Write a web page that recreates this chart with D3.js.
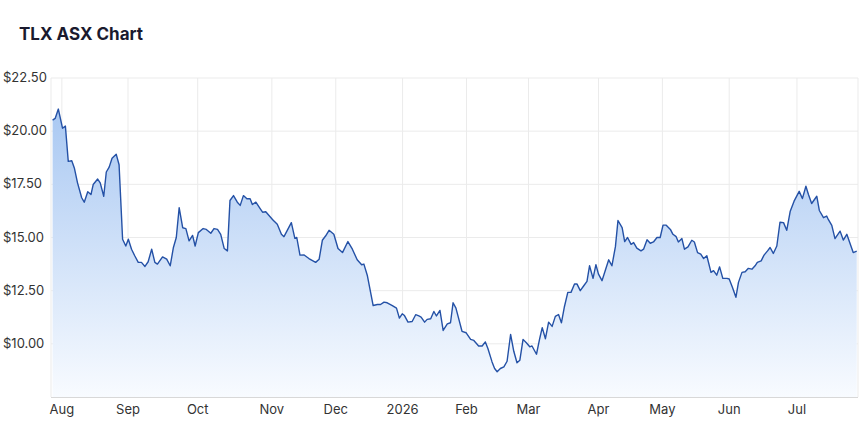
<!DOCTYPE html>
<html>
<head>
<meta charset="utf-8">
<script src="https://cdn.jsdelivr.net/npm/d3@7"></script>
<style>
  body { margin: 0; background: #fff; font-family: Inter, "Noto Sans", sans-serif; }
</style>
</head>
<body>
<svg id="chart" width="860" height="425"></svg>
<script>
// trading session number (0 = late Jul 2025) and closing price
var sessions = [0.5,1.3,2.3,3.6,4.5,5.4,6.5,7.3,8.3,9.6,10.4,11.5,12.5,13.2,14.6,15.4,16.5,17.3,18.2,19.1,20.4,21.3,22.4,23.4,24.2,25.2,26.2,27.3,28.3,29.4,30.4,31.5,32.5,33.3,34.9,36.2,37.3,38.3,39.2,40.1,41.2,42.2,43.2,44.3,45.1,46.1,47.6,48.6,50,51,52.1,53.1,54.2,55.2,56,57.1,58.3,59.2,60.2,61.3,62.3,63,64.1,65.6,66.2,67.2,69.3,70.8,72.1,72.9,75.2,76.3,76.9,77.9,79.2,80.7,82.8,83.9,84.9,85.9,87,88.5,89.8,91.2,92.9,94.3,95.8,97.2,97.9,99,100,100.8,102.1,103.1,104.2,105.2,106.8,108.1,109,109.9,110.6,111.7,113,114.1,115.1,115.8,116.9,117.7,118.8,119.8,120.6,121.7,122.7,124,125,125.8,126.7,128.6,129.9,131.3,132.3,133.8,134.9,135.9,136.7,138,138.8,139.6,140.6,141.7,142.7,143.8,144.8,145.8,146.7,147.7,148.8,149.8,150.5,151.9,152.9,153.7,154.7,155.7,156.8,157.8,158.8,159.7,160.6,161.7,162.7,163.8,164.6,165.6,166.7,167.7,168.5,169.6,170.5,171.3,172.4,173.4,174.5,175.5,176.6,177.4,178.7,179.5,180.4,181.5,182.3,183.3,184.6,185.4,186.5,187.5,188.5,189.6,190.6,191.5,192.5,193.8,194.6,195.6,196.3,197.4,198.2,199.3,200.5,201.3,202.3,203.3,204.2,205.2,206.5,207.3,208.3,209.2,210.2,211.5,212.2,213.2,214.3,215.1,216.2,217.2,218.2,219.3,220.3,221,222.2,223.1,224.2,225,226,227.1,228.1,229.2,230.2,231.3,232.5,234.1,235.1,236.2,237,238,239.6,240.4,241.7,242.7,243.2,244.3,245.3,246.9,247.9,249,251,252.1];
var prices = [20.52,20.6,21.04,20.14,20.24,18.58,18.61,18.27,17.57,16.87,16.66,17.15,17.02,17.49,17.75,17.57,16.94,18.08,18.31,18.73,18.92,18.42,14.92,14.6,14.92,14.45,14.14,13.83,13.83,13.64,13.86,14.45,13.83,13.75,14.09,13.98,13.67,14.53,15.0,16.4,15.46,15.42,14.84,15.1,14.6,15.23,15.42,15.38,15.2,15.42,15.38,15.15,14.48,14.37,16.74,16.97,16.66,16.51,16.97,16.82,16.82,16.55,16.66,16.32,16.19,16.21,15.85,15.62,15.15,15.04,15.7,14.96,15.0,14.17,14.18,14.01,13.83,13.98,14.87,15.07,15.34,15.15,14.48,14.29,14.81,14.45,13.95,13.72,13.75,13.2,12.42,11.8,11.85,11.85,11.96,11.93,11.8,11.68,11.21,11.41,11.33,11.02,11.05,11.37,11.31,11.26,11.02,11.15,11.18,11.52,11.31,11.57,10.63,10.94,10.99,11.93,11.68,10.59,10.52,10.21,10.16,9.9,9.9,10.09,9.78,9.15,8.84,8.69,8.84,8.92,9.18,10.44,9.65,9.11,9.23,10.21,10.04,9.86,9.9,9.51,10.24,10.76,10.24,11.02,10.82,11.29,11.38,10.99,11.72,12.42,12.42,12.81,12.81,12.5,12.73,12.94,13.67,13.08,13.72,13.28,12.97,13.44,13.95,13.67,14.57,15.8,15.46,14.81,15.0,14.68,14.76,14.5,14.37,14.45,14.89,14.73,14.79,15.0,15.0,15.58,15.58,15.38,15.15,15.04,14.79,14.95,14.45,14.56,14.87,14.79,14.29,14.22,14.01,14.14,13.36,13.44,13.23,13.62,13.08,13.08,13.05,12.66,12.19,12.89,13.36,13.39,13.55,13.51,13.67,13.83,13.9,14.17,14.37,14.53,14.25,14.6,15.72,15.7,15.34,16.24,16.71,17.17,16.83,17.41,17.02,16.6,16.94,16.27,15.93,16.01,15.85,15.57,14.95,15.3,14.88,15.15,14.29,14.36];

var monthSessions = [3.4,24.1,45.9,69.1,89.1,110,130,149.4,171.3,191.3,212.2,233.4];
var monthLabels = ["Aug","Sep","Oct","Nov","Dec","2026","Feb","Mar","Apr","May","Jun","Jul"];
var priceTicks = [10, 12.5, 15, 17.5, 20, 22.5];

var svg = d3.select("#chart");
var plotLeft = 51, plotRight = 858, plotTop = 78, plotBottom = 397;

var x = d3.scaleLinear().domain([0, 252.5]).range([plotLeft, plotRight]);
var y = d3.scaleLinear().domain([7.5, 22.5]).range([plotBottom, plotTop]);

svg.append("text")
	.attr("x", 19).attr("y", 40)
	.attr("font-size", 17).attr("font-weight", 700)
	.attr("fill", "#1a1a2e")
	.text("TLX ASX Chart");

// grid
svg.append("g").selectAll("line").data(priceTicks).join("line")
	.attr("x1", plotLeft).attr("x2", plotRight)
	.attr("y1", d => y(d)).attr("y2", d => y(d))
	.attr("stroke", "#ebebeb");
svg.append("g").selectAll("line").data(monthSessions).join("line")
	.attr("x1", d => x(d)).attr("x2", d => x(d))
	.attr("y1", plotTop).attr("y2", plotBottom)
	.attr("stroke", "#ebebeb");
svg.append("line").attr("x1", plotLeft).attr("x2", plotLeft).attr("y1", plotTop).attr("y2", plotBottom).attr("stroke", "#ebebeb");
svg.append("line").attr("x1", plotRight).attr("x2", plotRight).attr("y1", plotTop).attr("y2", plotBottom).attr("stroke", "#ebebeb");

// fill gradient
var grad = svg.append("defs").append("linearGradient")
	.attr("id", "fillGrad").attr("x1", 0).attr("y1", 0).attr("x2", 0).attr("y2", 1);
grad.append("stop").attr("offset", "0%").attr("stop-color", "#a9c8f2");
grad.append("stop").attr("offset", "100%").attr("stop-color", "#f8fbff");

var pts = sessions.map((s, i) => [s, prices[i]]);

svg.append("path").datum(pts)
	.attr("fill", "url(#fillGrad)")
	.attr("d", d3.area().x(d => x(d[0])).y0(plotBottom).y1(d => y(d[1])));

svg.append("path").datum(pts)
	.attr("fill", "none").attr("stroke", "#2451a6").attr("stroke-width", 1.4)
	.attr("stroke-linejoin", "round")
	.attr("d", d3.line().x(d => x(d[0])).y(d => y(d[1])));

// axes
svg.append("line").attr("x1", plotLeft).attr("x2", plotRight).attr("y1", plotBottom + 0.5).attr("y2", plotBottom + 0.5).attr("stroke", "#d8d8d8");

svg.append("g").selectAll("text").data(priceTicks).join("text")
	.attr("x", 3).attr("y", d => y(d) + 4)
	.attr("font-size", 13).attr("fill", "#333")
	.text(d => "$" + d.toFixed(2));

svg.append("g").selectAll("text").data(monthSessions).join("text")
	.attr("x", d => x(d)).attr("y", 414)
	.attr("text-anchor", "middle")
	.attr("font-size", 13).attr("fill", "#333")
	.text((d, i) => monthLabels[i]);
</script>
</body>
</html>
